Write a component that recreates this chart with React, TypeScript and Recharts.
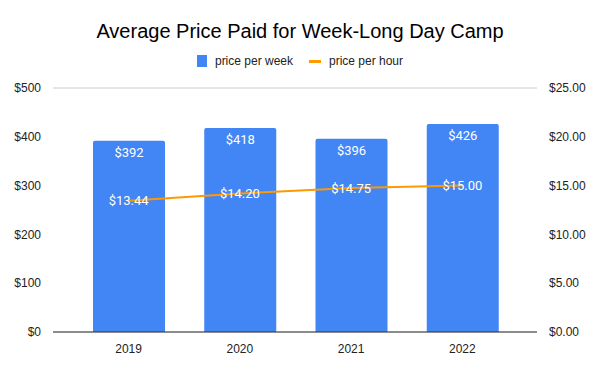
import React from 'react';
import { ComposedChart, Bar, Line, XAxis, YAxis, CartesianGrid, Legend, LabelList } from 'recharts';

const years = ['2019', '2020', '2021', '2022'];
const pricePerWeek = [392, 418, 396, 426];
const pricePerHour = [13.44, 14.2, 14.75, 15.0];
const leftTicks = [0, 100, 200, 300, 400, 500];
const rightTicks = [0, 5, 10, 15, 20, 25];

const data = years.map((year, i) => ({
  year,
  week: pricePerWeek[i],
  hour: pricePerHour[i],
}));

const BLUE = '#4285F4';
const ORANGE = '#FF9900';
const AXIS_FONT = 'Arial, "Liberation Sans", sans-serif';
const LABEL_FONT = 'Roboto, Arial, sans-serif';

function LegendContent() {
  return (
    <div style={{ display: 'flex', justifyContent: 'center', alignItems: 'center', fontFamily: AXIS_FONT, fontSize: 12, color: '#222', height: 14 }}>
      <span style={{ width: 10, height: 12, background: BLUE, display: 'inline-block', marginRight: 8 }} />
      <span style={{ marginRight: 16 }}>price per week</span>
      <span style={{ width: 12, height: 3, background: ORANGE, display: 'inline-block', marginRight: 8 }} />
      <span>price per hour</span>
    </div>
  );
}

function HourLabel(props: any) {
  const { x, y, value } = props;
  return (
    <text x={x} y={y} textAnchor="middle" dominantBaseline="central" fill="#fff" fontSize={13} fontFamily={LABEL_FONT}>
      {'$' + Number(value).toFixed(2)}
    </text>
  );
}

export default function App() {
  return (
    <div style={{ position: 'absolute', left: 0, top: 0, width: 600, height: 371, background: '#fff' }}>
      <div
        style={{
          position: 'absolute',
          top: 20,
          width: 600,
          textAlign: 'center',
          fontFamily: AXIS_FONT,
          fontSize: 20,
          color: '#000',
        }}
      >
        Average Price Paid for Week-Long Day Camp
      </div>
      <ComposedChart width={600} height={371} data={data} margin={{ top: 74, right: 0, left: 0, bottom: 9 }}>
        <CartesianGrid vertical={false} stroke="#cccccc" />
        <XAxis
          dataKey="year"
          padding={{ left: 20, right: 19 }}
          tickLine={false}
          axisLine={{ stroke: '#333' }}
          height={30}
          tick={{ fill: '#222', fontSize: 12, fontFamily: AXIS_FONT }}
          tickMargin={6}
        />
        <YAxis
          yAxisId="left"
          width={53}
          domain={[0, 500]}
          ticks={leftTicks}
          tickFormatter={(v: number) => '$' + v}
          axisLine={false}
          tickLine={false}
          tickMargin={6}
          tick={{ fill: '#222', fontSize: 12, fontFamily: AXIS_FONT }}
        />
        <YAxis
          yAxisId="right"
          orientation="right"
          width={63}
          domain={[0, 25]}
          ticks={rightTicks}
          tickFormatter={(v: number) => '$' + v.toFixed(2)}
          axisLine={false}
          tickLine={false}
          tickMargin={6}
          tick={{ fill: '#222', fontSize: 12, fontFamily: AXIS_FONT }}
        />
        <Legend verticalAlign="top" wrapperStyle={{ top: 54, left: 0, width: 600 }} content={<LegendContent />} />
        <Bar yAxisId="left" dataKey="week" name="price per week" fill={BLUE} barSize={72} radius={[2, 2, 0, 0]} isAnimationActive={false}>
          <LabelList
            dataKey="week"
            position="insideTop"
            offset={7}
            fill="#fff"
            fontSize={13}
            fontFamily={LABEL_FONT}
            formatter={(v: any) => '$' + v}
          />
        </Bar>
        <Line
          yAxisId="right"
          dataKey="hour"
          name="price per hour"
          stroke={ORANGE}
          strokeWidth={2}
          dot={false}
          type="linear"
          isAnimationActive={false}
        >
          <LabelList dataKey="hour" content={<HourLabel />} />
        </Line>
      </ComposedChart>
    </div>
  );
}
